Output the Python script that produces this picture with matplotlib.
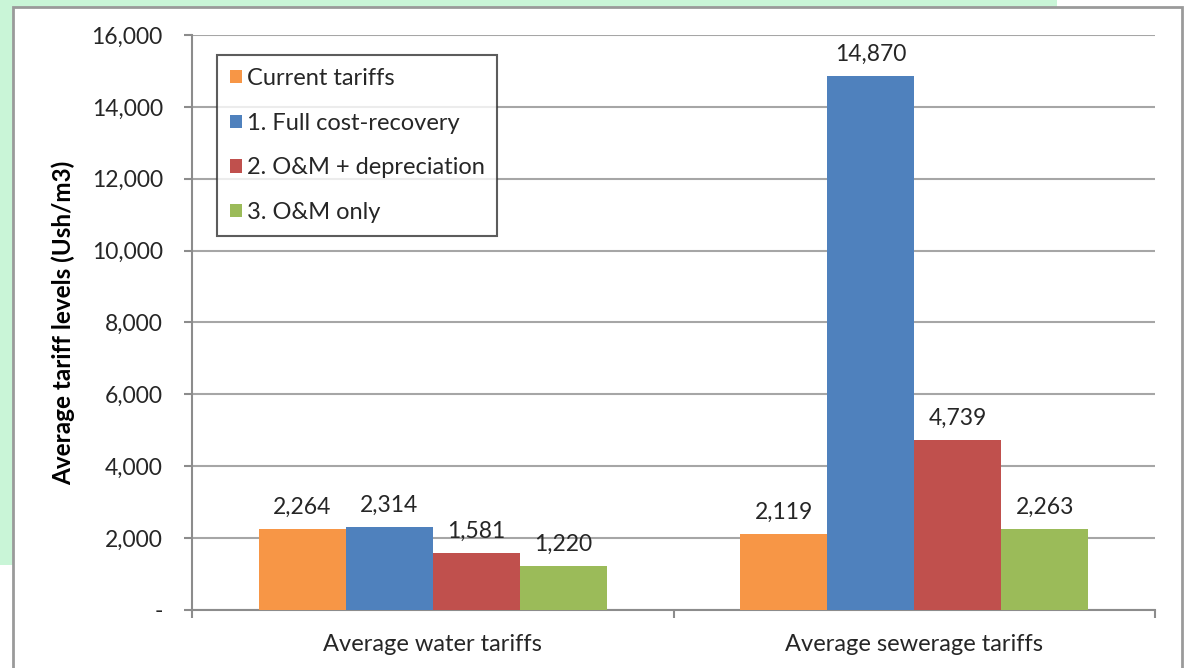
import numpy as np
import matplotlib
matplotlib.use("Agg")
import matplotlib.pyplot as plt
from matplotlib.patches import Rectangle
from matplotlib.ticker import FuncFormatter, FixedLocator

categories = ["Average water tariffs", "Average sewerage tariffs"]
series_names = ["Current tariffs", "1. Full cost-recovery",
                "2. O&M + depreciation", "3. O&M only"]
current = [2264, 2119]
full_cost = [2314, 14870]
om_dep = [1581, 4739]
om_only = [1220, 2263]
series_values = [current, full_cost, om_dep, om_only]
colors = ["#F79646", "#4F81BD", "#C0504D", "#9BBB59"]

plt.rcParams["font.family"] = ["Lato", "DejaVu Sans"]
text_color = "#262626"

fig = plt.figure(figsize=(11.84, 6.68), dpi=100)
fig.patch.set_facecolor("white")

# mint backdrop and the white chart frame on top of it
fig.patches.append(Rectangle((0, 1 - 565 / 668), 1057 / 1184, 565 / 668,
                             transform=fig.transFigure, facecolor="#c9f5d7",
                             edgecolor="none", zorder=0))
fig.patches.append(Rectangle((13 / 1184, -0.02), (1182 - 13) / 1184, 1 - 7 / 668 + 0.02,
                             transform=fig.transFigure, facecolor="white",
                             edgecolor="#9a9a9a", linewidth=2, zorder=1))

ax = fig.add_axes([192 / 1184, 1 - 610 / 668, (1155 - 192) / 1184, (610 - 35) / 668])
ax.set_facecolor("none")
ax.set_zorder(2)

x = np.arange(len(categories))
width = 87 / 481.5
offsets = (np.arange(len(series_names)) - 1.5) * width

for name, vals, off, col in zip(series_names, series_values, offsets, colors):
    bars = ax.bar(x + off, vals, width, color=col, label=name, zorder=3)
    ax.bar_label(bars, labels=[f"{v:,}" for v in vals], padding=8,
                 fontsize=16.5, color=text_color)

ax.set_xlim(-0.5, 1.5)
ax.set_ylim(0, 16000)
ax.set_yticks(np.arange(0, 16001, 2000))
ax.yaxis.set_major_formatter(FuncFormatter(lambda v, p: "-" if v == 0 else f"{int(v):,}"))
ax.grid(axis="y", color="#a6a6a6", linewidth=1.5, zorder=0)
ax.set_axisbelow(True)

ax.xaxis.set_major_locator(FixedLocator([-0.5, 0.5, 1.5]))
ax.xaxis.set_major_formatter(FuncFormatter(lambda v, p: ""))
ax.xaxis.set_minor_locator(FixedLocator(x))
ax.set_xticklabels(categories, minor=True)
ax.tick_params(axis="x", which="major", length=6, width=1.5, color="#8c8c8c", direction="out")
ax.tick_params(axis="x", which="minor", length=0, pad=17, labelsize=17, labelcolor=text_color)
ax.tick_params(axis="y", length=6, width=1.5, color="#8c8c8c", pad=15,
               labelsize=16.5, labelcolor=text_color)

for side in ["top", "right"]:
    ax.spines[side].set_visible(False)
for side in ["left", "bottom"]:
    ax.spines[side].set_color("#8c8c8c")
    ax.spines[side].set_linewidth(1.5)

ax.set_ylabel("Average tariff levels (Ush/m3)", fontsize=17.5, fontweight="bold",
              color="black", labelpad=12)

leg = ax.legend(loc="upper left", bbox_to_anchor=(0.026, 0.965), borderaxespad=0,
                fontsize=17, frameon=True, fancybox=False, edgecolor="#333333",
                handlelength=0.5, handleheight=0.5, handletextpad=0.2,
                labelspacing=1.0, borderpad=0.55)
leg.get_frame().set_linewidth(1.5)
for t in leg.get_texts():
    t.set_color(text_color)

fig.savefig("out.png", dpi=100)
